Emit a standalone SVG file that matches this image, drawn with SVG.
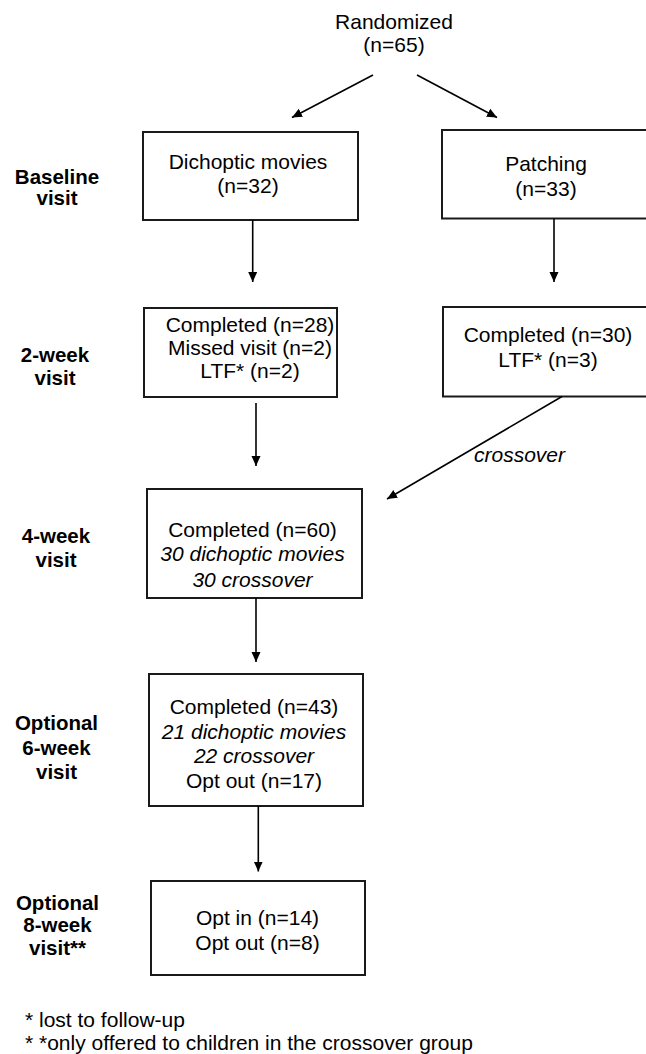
<svg xmlns="http://www.w3.org/2000/svg" width="646" height="1054" viewBox="0 0 646 1054">
<style>
text{font-family:"Liberation Sans",Arial,sans-serif;font-size:21px;fill:#000;text-anchor:middle}
.lbl{font-weight:bold;font-size:20.5px}
.it{font-style:italic}
.fn{text-anchor:start}
.box{fill:#fff;stroke:#1a1a1a;stroke-width:2}
.con{stroke:#000;stroke-width:1.6;fill:none;marker-end:url(#ah)}
</style>
<defs>
<marker id="ah" markerUnits="userSpaceOnUse" markerWidth="10" markerHeight="10" refX="10" refY="5" orient="auto">
<path d="M0,0.5 L10,5 L0,9.5 z" fill="#000"/>
</marker>
</defs>
<rect width="646" height="1054" fill="#fff"/>
<g id="labels">
<text class="lbl" x="57" y="183.5">Baseline</text>
<text class="lbl" x="57" y="205">visit</text>
<text class="lbl" x="55" y="362">2-week</text>
<text class="lbl" x="55" y="385">visit</text>
<text class="lbl" x="56" y="543">4-week</text>
<text class="lbl" x="56" y="566.5">visit</text>
<text class="lbl" x="56.5" y="730">Optional</text>
<text class="lbl" x="56.5" y="755">6-week</text>
<text class="lbl" x="56.5" y="778.5">visit</text>
<text class="lbl" x="57.5" y="909.5">Optional</text>
<text class="lbl" x="57.5" y="932">8-week</text>
<text class="lbl" x="57.5" y="955">visit**</text>
</g>
<g id="randomized">
<text x="394" y="28.5">Randomized</text>
<text x="394" y="52">(n=65)</text>
</g>
<g id="dichoptic">
<rect class="box" x="143" y="132" width="215" height="88"/>
<text x="248" y="169">Dichoptic movies</text>
<text x="248" y="192.5">(n=32)</text>
</g>
<g id="patching">
<rect class="box" x="442" y="130" width="210" height="88.5"/>
<text x="546" y="170.5">Patching</text>
<text x="546" y="195.5">(n=33)</text>
</g>
<g id="dichoptic-2wk">
<rect class="box" x="144" y="308" width="193" height="89"/>
<text x="250" y="332">Completed (n=28)</text>
<text x="250" y="355">Missed visit (n=2)</text>
<text x="250" y="377.5">LTF* (n=2)</text>
</g>
<g id="patching-2wk">
<rect class="box" x="443" y="307" width="210" height="89.5"/>
<text x="548" y="342">Completed (n=30)</text>
<text x="548" y="366.5">LTF* (n=3)</text>
</g>
<g id="wk4">
<rect class="box" x="147" y="489" width="215" height="109"/>
<text x="252.5" y="537">Completed (n=60)</text>
<text class="it" x="252.5" y="560.5">30 dichoptic movies</text>
<text class="it" x="252.5" y="587">30 crossover</text>
</g>
<g id="wk6">
<rect class="box" x="149" y="674" width="214" height="132"/>
<text x="254" y="714">Completed (n=43)</text>
<text class="it" x="254" y="739">21 dichoptic movies</text>
<text class="it" x="254" y="763">22 crossover</text>
<text x="254" y="788">Opt out (n=17)</text>
</g>
<g id="wk8">
<rect class="box" x="151" y="881" width="214" height="94"/>
<text x="257.5" y="925">Opt in (n=14)</text>
<text x="257.5" y="949.5">Opt out (n=8)</text>
</g>
<g id="connectors">
<line class="con" x1="373" y1="75" x2="292" y2="117.5"/>
<line class="con" x1="417" y1="75" x2="497" y2="117.5"/>
<line class="con" x1="252.7" y1="220" x2="252.7" y2="282"/>
<line class="con" x1="554" y1="218.5" x2="554" y2="282"/>
<line class="con" x1="256" y1="403" x2="256" y2="466"/>
<line class="con" x1="562" y1="396.5" x2="387" y2="499"/>
<line class="con" x1="256" y1="598" x2="256" y2="662"/>
<line class="con" x1="258.3" y1="806" x2="258.3" y2="871.5"/>
<text class="it fn" x="474" y="462">crossover</text>
</g>
<g id="footnotes">
<text class="fn" x="25" y="1027">* lost to follow-up</text>
<text class="fn" x="25" y="1050">* *only offered to children in the crossover group</text>
</g>
</svg>
